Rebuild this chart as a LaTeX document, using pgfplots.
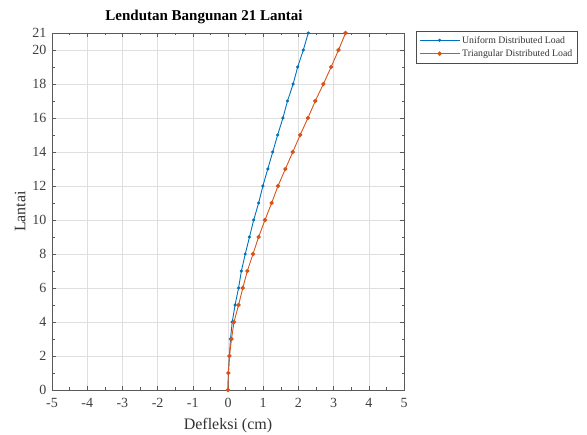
\documentclass[border=0pt]{standalone}
\usepackage{pgfplots}
\pgfplotsset{compat=1.18}
\usepackage{fontspec}
\setmainfont{Liberation Serif}
\definecolor{mblue}{RGB}{0,114,189}
\definecolor{morange}{RGB}{217,83,25}
\begin{document}
\begin{tikzpicture}
\path[use as bounding box] (0pt,0pt) rectangle (587pt,435pt);
\begin{axis}[
  at={(52pt,45pt)}, anchor=south west,
  scale only axis, width=352pt, height=357pt,
  xmin=-5, xmax=5, ymin=0, ymax=21,
  xtick={-5,-4,...,5}, minor x tick num=1,
  ytick={0,2,4,6,8,10,12,14,16,18,20,21},
  minor ytick={1,3,5,7,9,11,13,15,17,19},
  tick align=inside, tick pos=both,
  major tick length=4pt, minor tick length=2.5pt,
  grid=major, major grid style={gray!25, line width=0.5pt},
  axis line style={gray!70!black, line width=0.8pt},
  tick style={gray!70!black, line width=0.6pt},
  /pgf/number format/assume math mode=true,
  ticklabel style={font=\fontsize{14}{14}\selectfont, text=black!75},
  xticklabel style={yshift=-5pt},
  yticklabel style={xshift=-2pt},
  title={\textbf{Lendutan Bangunan 21 Lantai}},
  title style={font=\fontsize{15}{15}\selectfont, yshift=0pt, xshift=-24pt},
  xlabel={Defleksi (cm)}, ylabel={Lantai},
  label style={font=\fontsize{16}{16}\selectfont, text=black!80},
  xlabel style={yshift=-3pt}, ylabel style={yshift=0pt},
  legend style={at={(1.034,1.006)}, anchor=north west,
    font=\fontsize{9.8}{11}\selectfont, draw=black!70, line width=0.5pt,
    inner xsep=3pt, inner ysep=3pt, row sep=1pt,
    text=black!80},
  legend cell align=left,
  legend image code/.code={\draw[mark repeat=2,mark phase=2] plot coordinates {(0pt,0pt)(20pt,0pt)(40pt,0pt)};},
]
\addplot[mblue, line width=0.9pt, mark=*, mark size=1.1pt] coordinates {
(0,0)(0.01,1)(0.04,2)(0.07,3)(0.12,4)(0.2,5)(0.3,6)(0.38,7)(0.49,8)(0.61,9)(0.73,10)
(0.87,11)(0.99,12)(1.13,13)(1.27,14)(1.41,15)(1.56,16)(1.69,17)(1.85,18)(1.98,19)(2.14,20)(2.28,21)};
\addlegendentry{Uniform Distributed Load}
\addplot[morange, line width=0.9pt, mark=*, mark size=1.7pt] coordinates {
(0,0)(0.01,1)(0.04,2)(0.1,3)(0.17,4)(0.3,5)(0.42,6)(0.55,7)(0.71,8)(0.87,9)(1.05,10)
(1.24,11)(1.42,12)(1.63,13)(1.84,14)(2.05,15)(2.27,16)(2.48,17)(2.71,18)(2.93,19)(3.14,20)(3.34,21)};
\addlegendentry{Triangular Distributed Load}
\end{axis}
\end{tikzpicture}
\end{document}
